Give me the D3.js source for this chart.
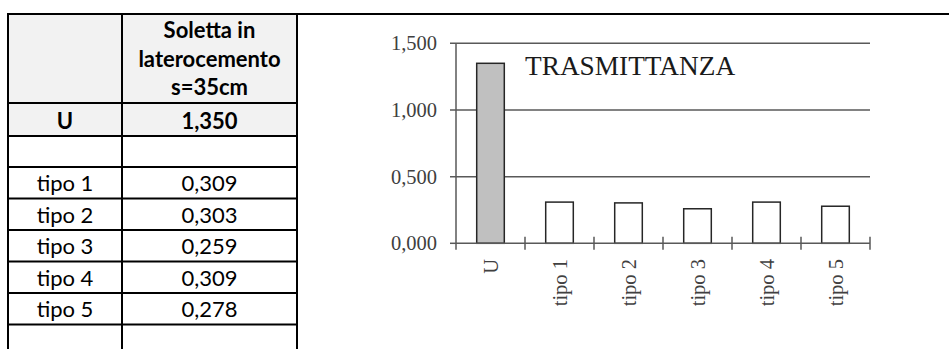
<!DOCTYPE html>
<html><head><meta charset="utf-8">
<script src="https://cdn.jsdelivr.net/npm/d3@7"></script>
<style>body{margin:0;background:#fff}svg{display:block}</style>
</head><body>
<svg id="c" width="949" height="349"></svg>
<script>
// ---- data ----
const categories = ["U", "tipo 1", "tipo 2", "tipo 3", "tipo 4", "tipo 5"];
const values = [1.350, 0.309, 0.303, 0.259, 0.309, 0.278];
const headerLines = ["Soletta in", "laterocemento", "s=35cm"];
const yTicks = [0, 0.5, 1.0, 1.5];
const chartTitle = "TRASMITTANZA";

const svg = d3.select("#c");
const it = d3.formatLocale({decimal: ",", thousands: ".", grouping: [3], currency: ["€", ""]});
const fmt = it.format(".3f");

// ---- table ----
const tx0 = 8, tx1 = 122, tx2 = 297;
// rows: header, U, empty, tipo1..tipo5, empty
const rowEdges = [14, 103, 136, 167, 198.5, 230, 261.5, 293, 324.5, 360];
const rows = [{kind: "header"}, {kind: "bold", label: categories[0], value: fmt(values[0])}, {kind: "empty"}];
categories.slice(1).forEach((c, i) => rows.push({kind: "normal", label: c, value: fmt(values[i + 1])}));
rows.push({kind: "empty"});

const tbl = svg.append("g");
rows.forEach((r, i) => {
  const top = rowEdges[i], bot = rowEdges[i + 1];
  if (r.kind === "header" || r.kind === "bold") {
    tbl.append("rect").attr("x", tx0).attr("y", top).attr("width", tx2 - tx0).attr("height", bot - top).attr("fill", "#f2f2f2");
  }
});
const tfont = "Lato, 'Open Sans', sans-serif";
rows.forEach((r, i) => {
  const bot = rowEdges[i + 1];
  if (r.kind === "header") {
    headerLines.forEach((t, k) => {
      tbl.append("text").attr("x", (tx1 + tx2) / 2).attr("y", bot - 8 - (headerLines.length - 1 - k) * 28.3)
        .attr("text-anchor", "middle").attr("font-family", tfont).attr("font-weight", "bold")
        .attr("font-size", 22).attr("fill", "#000").text(t);
    });
  } else if (r.kind !== "empty") {
    [[ (tx0 + tx1) / 2, r.label ], [ (tx1 + tx2) / 2, r.value ]].forEach(([cx, t]) => {
      tbl.append("text").attr("x", cx).attr("y", bot - 7.5)
        .attr("text-anchor", "middle").attr("font-family", tfont)
        .attr("font-weight", r.kind === "bold" ? "bold" : "normal")
        .attr("font-size", 22).attr("fill", "#000").text(t);
    });
  }
});
// horizontal lines
rowEdges.slice(0, rowEdges.length - 1).forEach((y, i) => {
  tbl.append("line").attr("x1", tx0 - 1).attr("x2", i === 0 ? 949 : tx2 + 1).attr("y1", y).attr("y2", y)
    .attr("stroke", "#000").attr("stroke-width", 2);
});
[tx0, tx1, tx2].forEach(x => {
  tbl.append("line").attr("x1", x).attr("x2", x).attr("y1", 13).attr("y2", 349)
    .attr("stroke", "#000").attr("stroke-width", 2);
});

// ---- chart ----
const x = d3.scaleBand().domain(categories).range([456, 870]).paddingInner(0.6).paddingOuter(0.3);
const y = d3.scaleLinear().domain([0, 1.5]).range([243.3, 43.3]);
const ch = svg.append("g");
const gridCol = "#595959";
const serif = "'Liberation Serif', 'Times New Roman', serif";

// gridlines + y ticks
yTicks.forEach(t => {
  ch.append("line").attr("x1", 450).attr("x2", t === 0 ? 456 : 870).attr("y1", y(t)).attr("y2", y(t))
    .attr("stroke", gridCol).attr("stroke-width", 1.5);
  ch.append("text").attr("x", 437).attr("y", y(t)).attr("dy", "0.35em").attr("text-anchor", "end")
    .attr("font-family", serif).attr("font-size", 20.5).attr("fill", "#404040").text(fmt(t));
});
// y axis line
ch.append("line").attr("x1", 456).attr("x2", 456).attr("y1", y(1.5)).attr("y2", y(0))
  .attr("stroke", gridCol).attr("stroke-width", 1.5);

// bars
ch.selectAll("rect.bar").data(categories).join("rect").attr("class", "bar")
  .attr("x", d => x(d)).attr("width", x.bandwidth())
  .attr("y", (d, i) => y(values[i])).attr("height", (d, i) => y(0) - y(values[i]))
  .attr("fill", (d, i) => i === 0 ? "#c0c0c0" : "#ffffff")
  .attr("stroke", "#262626").attr("stroke-width", 1.5);

// x axis
ch.append("line").attr("x1", 456).attr("x2", 870).attr("y1", y(0)).attr("y2", y(0))
  .attr("stroke", gridCol).attr("stroke-width", 1.5);
const step = x.step();
const bounds = categories.map(c => x(c) - step * x.paddingInner() / 2).concat([x.range()[1]]);
bounds.forEach((b, i) => {
  ch.append("line").attr("x1", b).attr("x2", b).attr("y1", i === 0 ? y(0) : y(0) - 6.5).attr("y2", y(0) + 6.5)
    .attr("stroke", gridCol).attr("stroke-width", 1.5);
});
// x labels
categories.forEach(c => {
  ch.append("text").attr("transform", `translate(${x(c) + x.bandwidth() / 2},259) rotate(-90)`)
    .attr("dy", "0.35em").attr("text-anchor", "end")
    .attr("font-family", serif).attr("font-size", 20.5).attr("fill", "#404040").text(c);
});
// title
ch.append("text").attr("x", 525).attr("y", 75).attr("font-family", serif).attr("font-size", 27.3)
  .attr("fill", "#1a1a1a").text(chartTitle);
</script>
</body></html>
